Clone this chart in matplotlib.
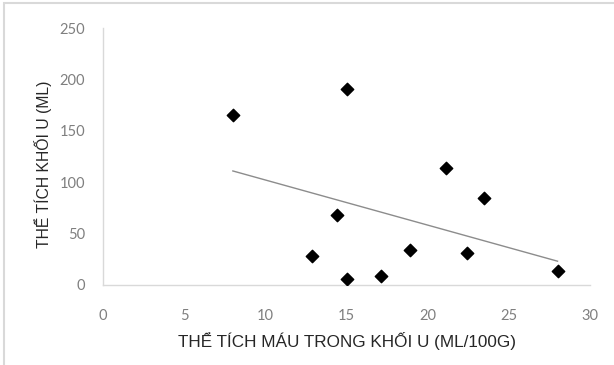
import numpy as np
import matplotlib
matplotlib.use('Agg')
import matplotlib.pyplot as plt
from matplotlib.patches import Rectangle

# blood volume in tumour (ml/100g) vs tumour volume (ml)
blood_vol = [8.0, 15.0, 14.4, 12.9, 15.0, 17.1, 18.9, 21.1, 22.4, 23.5, 28.0]
tumour_vol = [165, 191, 68, 28, 6, 9, 34, 114, 31, 85, 14]
x_ticks = [0, 5, 10, 15, 20, 25, 30]
y_ticks = [0, 50, 100, 150, 200, 250]

xlabel = 'THỂ TÍCH MÁU TRONG KHỐI U (ML/100G)'
ylabel = 'THỂ TÍCH KHỐI U (ML)'

fig = plt.figure(figsize=(6.14, 3.65), dpi=100)
ax = fig.add_axes([103/614, 1-285/365, 487/614, 257/365])

# outer chart frame (cropped on right and bottom)
fig.patches.append(Rectangle((4/614, -0.05), 1.2, (1-3/365)+0.05, transform=fig.transFigure,
                             fill=False, edgecolor='#d9d9d9', linewidth=1.5))

ax.scatter(blood_vol, tumour_vol, marker='D', s=40, color='black', zorder=3)

# linear trendline over the data range
k, b = np.polyfit(blood_vol, tumour_vol, 1)
xs = np.array([min(blood_vol), max(blood_vol)])
ax.plot(xs, k*xs + b, color='#8c8c8c', linewidth=1.0, zorder=2)

ax.set_xlim(0, 30)
ax.set_ylim(0, 250)
ax.set_xticks(x_ticks)
ax.set_yticks(y_ticks)

for s in ['top', 'right']:
	ax.spines[s].set_visible(False)
for s in ['left', 'bottom']:
	ax.spines[s].set_color('#d9d9d9')
	ax.spines[s].set_linewidth(1.0)

ax.tick_params(axis='both', length=0, labelcolor='#7f7f7f', labelsize=10.5)
ax.tick_params(axis='x', pad=17)
ax.tick_params(axis='y', pad=13)
for t in ax.get_xticklabels() + ax.get_yticklabels():
	t.set_family(['Lato', 'DejaVu Sans'])

ax.set_xlabel(xlabel, fontsize=12.3, color='#262626', labelpad=7,
              family=['Liberation Sans', 'DejaVu Sans'])
ax.set_ylabel(ylabel, fontsize=11.3, color='#262626',
              family=['Liberation Sans', 'DejaVu Sans'])
ax.yaxis.set_label_coords(-0.105, 0.47)

fig.savefig('out.png', dpi=100)
